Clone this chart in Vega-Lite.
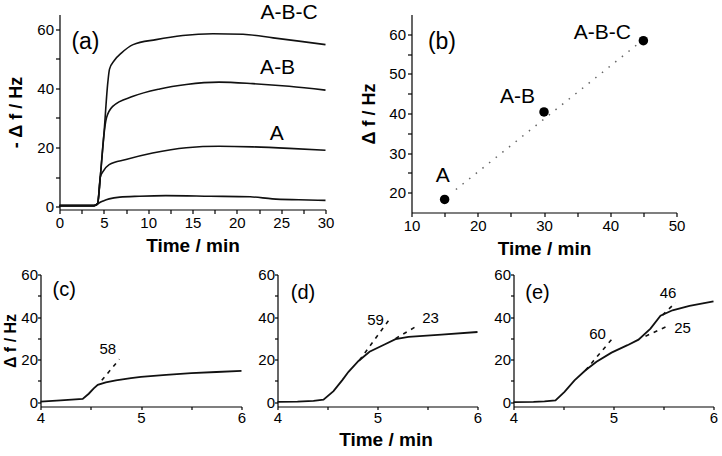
{
  "$schema": "https://vega.github.io/schema/vega-lite/v6.json",
  "padding": {"left": 2.5, "top": 1.5, "right": 0, "bottom": 0},
  "background": "white",
  "config": {
    "font": "Liberation Sans",
    "view": {"stroke": null},
    "axis": {
      "grid": false,
      "domainColor": "#000",
      "domainWidth": 1.2,
      "tickColor": "#000",
      "tickWidth": 1.2,
      "tickSize": 4,
      "labelFont": "Liberation Sans",
      "labelFontSize": 15,
      "labelColor": "#000",
      "labelFlush": false,
      "labelOverlap": false,
      "labelPadding": 2,
      "titleFont": "Liberation Sans",
      "titleFontWeight": "bold",
      "titleColor": "#000"
    },
    "text": {"font": "Liberation Sans", "color": "#000"}
  },
  "datasets": {
    "a": [
      {"s": "0", "t": 0, "v": 0.3}, {"s": "0", "t": 3.9, "v": 0.3}, {"s": "0", "t": 4.2, "v": 0.6}, {"s": "0", "t": 4.45, "v": 1.2}, {"s": "0", "t": 5, "v": 2.0}, {"s": "0", "t": 5.6, "v": 2.6}, {"s": "0", "t": 6.8, "v": 3.2}, {"s": "0", "t": 9, "v": 3.5}, {"s": "0", "t": 12, "v": 3.7}, {"s": "0", "t": 17, "v": 3.5}, {"s": "0", "t": 21.5, "v": 3.3}, {"s": "0", "t": 24, "v": 2.6}, {"s": "0", "t": 27, "v": 2.3}, {"s": "0", "t": 30, "v": 2.1},
      {"s": "A", "t": 0, "v": 0.3}, {"s": "A", "t": 3.9, "v": 0.3}, {"s": "A", "t": 4.3, "v": 1}, {"s": "A", "t": 4.45, "v": 5}, {"s": "A", "t": 4.6, "v": 10}, {"s": "A", "t": 4.9, "v": 11.8}, {"s": "A", "t": 5.6, "v": 14.2}, {"s": "A", "t": 7.5, "v": 15.9}, {"s": "A", "t": 10.5, "v": 18.1}, {"s": "A", "t": 14.3, "v": 19.9}, {"s": "A", "t": 18, "v": 20.4}, {"s": "A", "t": 21.8, "v": 20.2}, {"s": "A", "t": 25.9, "v": 19.7}, {"s": "A", "t": 30, "v": 19.05},
      {"s": "AB", "t": 0, "v": 0.3}, {"s": "AB", "t": 3.9, "v": 0.3}, {"s": "AB", "t": 4.3, "v": 1}, {"s": "AB", "t": 4.6, "v": 10}, {"s": "AB", "t": 5.0, "v": 24}, {"s": "AB", "t": 5.3, "v": 30}, {"s": "AB", "t": 6.0, "v": 33.9}, {"s": "AB", "t": 8.3, "v": 37.3}, {"s": "AB", "t": 11.3, "v": 39.8}, {"s": "AB", "t": 14.3, "v": 41.3}, {"s": "AB", "t": 18, "v": 42.1}, {"s": "AB", "t": 21.8, "v": 41.6}, {"s": "AB", "t": 25.9, "v": 40.7}, {"s": "AB", "t": 30, "v": 39.4},
      {"s": "ABC", "t": 0, "v": 0.3}, {"s": "ABC", "t": 3.9, "v": 0.3}, {"s": "ABC", "t": 4.3, "v": 1}, {"s": "ABC", "t": 4.6, "v": 10}, {"s": "ABC", "t": 5.0, "v": 24}, {"s": "ABC", "t": 5.45, "v": 42}, {"s": "ABC", "t": 5.64, "v": 46.5}, {"s": "ABC", "t": 6.2, "v": 49.5}, {"s": "ABC", "t": 7, "v": 52}, {"s": "ABC", "t": 8.3, "v": 54.8}, {"s": "ABC", "t": 10.9, "v": 56.5}, {"s": "ABC", "t": 13.9, "v": 57.9}, {"s": "ABC", "t": 17.3, "v": 58.5}, {"s": "ABC", "t": 20.7, "v": 58.3}, {"s": "ABC", "t": 24.1, "v": 57.1}, {"s": "ABC", "t": 27, "v": 56}, {"s": "ABC", "t": 30, "v": 54.8}
    ],
    "a_lbl": [
      {"t": 25.9, "v": 65.6, "text": "A-B-C"},
      {"t": 24.6, "v": 47, "text": "A-B"},
      {"t": 24.5, "v": 24.4, "text": "A"}
    ],
    "a_panel": [{"t": 2.93, "v": 55.8, "text": "(a)"}],
    "b_pts": [
      {"x": 15, "y": 18.3},
      {"x": 30, "y": 40.4},
      {"x": 45, "y": 58.4}
    ],
    "b_fit": [{"x": 16.7, "y": 20.8}, {"x": 44.5, "y": 58}],
    "b_lbl": [
      {"x": 14.7, "y": 24.2, "text": "A"},
      {"x": 26.0, "y": 44.2, "text": "A-B"},
      {"x": 38.8, "y": 60.3, "text": "A-B-C"}
    ],
    "b_panel": [{"x": 14.6, "y": 58.1, "text": "(b)"}],
    "bot": [
      {"p": "c", "t": 4, "v": 0.3}, {"p": "c", "t": 4.2, "v": 0.9}, {"p": "c", "t": 4.42, "v": 1.6}, {"p": "c", "t": 4.48, "v": 4}, {"p": "c", "t": 4.53, "v": 6.5}, {"p": "c", "t": 4.57, "v": 8.2}, {"p": "c", "t": 4.65, "v": 9.3}, {"p": "c", "t": 4.75, "v": 10.3}, {"p": "c", "t": 4.9, "v": 11.3}, {"p": "c", "t": 5, "v": 11.9}, {"p": "c", "t": 5.25, "v": 12.9}, {"p": "c", "t": 5.5, "v": 13.7}, {"p": "c", "t": 5.75, "v": 14.2}, {"p": "c", "t": 6, "v": 14.7},
      {"p": "d", "t": 4, "v": 0.2}, {"p": "d", "t": 4.2, "v": 0.3}, {"p": "d", "t": 4.36, "v": 0.6}, {"p": "d", "t": 4.46, "v": 1.2}, {"p": "d", "t": 4.56, "v": 5.2}, {"p": "d", "t": 4.65, "v": 10.5}, {"p": "d", "t": 4.71, "v": 14.3}, {"p": "d", "t": 4.81, "v": 19.4}, {"p": "d", "t": 4.92, "v": 23.7}, {"p": "d", "t": 5.07, "v": 27.1}, {"p": "d", "t": 5.18, "v": 29.6}, {"p": "d", "t": 5.31, "v": 30.7}, {"p": "d", "t": 5.64, "v": 31.8}, {"p": "d", "t": 6, "v": 33},
      {"p": "e", "t": 4, "v": 0.1}, {"p": "e", "t": 4.2, "v": 0.2}, {"p": "e", "t": 4.31, "v": 0.4}, {"p": "e", "t": 4.42, "v": 0.9}, {"p": "e", "t": 4.51, "v": 4.9}, {"p": "e", "t": 4.61, "v": 10.3}, {"p": "e", "t": 4.72, "v": 15}, {"p": "e", "t": 4.83, "v": 19}, {"p": "e", "t": 4.98, "v": 23.3}, {"p": "e", "t": 5.14, "v": 26.8}, {"p": "e", "t": 5.25, "v": 29.4}, {"p": "e", "t": 5.37, "v": 34.6}, {"p": "e", "t": 5.47, "v": 40.6}, {"p": "e", "t": 5.59, "v": 43.2}, {"p": "e", "t": 5.76, "v": 45.3}, {"p": "e", "t": 6, "v": 47.4}
    ],
    "tan": [
      {"p": "c", "id": "c1", "t": 4.61, "v": 10.3}, {"p": "c", "id": "c1", "t": 4.785, "v": 20.2},
      {"p": "d", "id": "d1", "t": 4.82, "v": 19.7}, {"p": "d", "id": "d1", "t": 5.12, "v": 39},
      {"p": "d", "id": "d2", "t": 5.18, "v": 29.9}, {"p": "d", "id": "d2", "t": 5.39, "v": 35.7},
      {"p": "e", "id": "e1", "t": 4.72, "v": 15}, {"p": "e", "id": "e1", "t": 4.98, "v": 29.4},
      {"p": "e", "id": "e2", "t": 5.49, "v": 40.9}, {"p": "e", "id": "e2", "t": 5.62, "v": 46.8},
      {"p": "e", "id": "e3", "t": 5.32, "v": 31}, {"p": "e", "id": "e3", "t": 5.56, "v": 36.2}
    ],
    "slope": [
      {"p": "c", "t": 4.67, "v": 25.1, "text": "58"},
      {"p": "d", "t": 4.98, "v": 38.7, "text": "59"},
      {"p": "d", "t": 5.53, "v": 39.4, "text": "23"},
      {"p": "e", "t": 4.84, "v": 31.9, "text": "60"},
      {"p": "e", "t": 5.545, "v": 51.2, "text": "46"},
      {"p": "e", "t": 5.69, "v": 34.8, "text": "25"}
    ],
    "bpanel": [
      {"p": "c", "t": 4.236, "v": 52.5, "text": "(c)"},
      {"p": "d", "t": 4.255, "v": 51.5, "text": "(d)"},
      {"p": "e", "t": 4.24, "v": 51.5, "text": "(e)"}
    ]
  },
  "spacing": 9,
  "vconcat": [
    {
      "bounds": "flush",
      "spacing": 18,
      "hconcat": [
        {"width": 1, "height": 1, "data": {"values": [{}]}, "mark": {"type": "point", "opacity": 0}},
        {
          "bounds": "flush",
          "spacing": 86,
          "hconcat": [
            {
              "width": 266,
              "height": 195,
              "encoding": {
                "x": {"field": "t", "type": "quantitative", "scale": {"domain": [0, 30], "nice": false, "zero": false},
                  "axis": {"values": [0, 2.5, 5, 7.5, 10, 12.5, 15, 17.5, 20, 22.5, 25, 27.5, 30], "labelExpr": "datum.value % 5 == 0 ? '' + datum.value : ''", "title": "Time / min", "titleFontSize": 19, "titlePadding": 6}},
                "y": {"field": "v", "type": "quantitative", "scale": {"domain": [-1, 65], "nice": false, "zero": false},
                  "axis": {"values": [0, 10, 20, 30, 40, 50, 60], "labelExpr": "datum.value % 20 == 0 ? '' + datum.value : ''", "title": "- Δ f / Hz", "titleFontSize": 18, "titlePadding": 11}}
              },
              "layer": [
                {"data": {"name": "a"}, "mark": {"type": "line", "color": "#111", "strokeWidth": 1.6, "interpolate": "monotone"}, "encoding": {"detail": {"field": "s"}}},
                {"data": {"name": "a_lbl"}, "mark": {"type": "text", "fontSize": 21, "align": "center", "baseline": "middle"}, "encoding": {"text": {"field": "text"}}},
                {"data": {"name": "a_panel"}, "mark": {"type": "text", "fontSize": 23, "align": "center", "baseline": "middle"}, "encoding": {"text": {"field": "text"}}}
              ]
            },
            {
              "width": 265,
              "height": 198,
              "encoding": {
                "x": {"field": "x", "type": "quantitative", "scale": {"domain": [10, 50], "nice": false, "zero": false},
                  "axis": {"values": [10, 15, 20, 25, 30, 35, 40, 45, 50], "labelExpr": "datum.value % 10 == 0 ? '' + datum.value : ''", "title": "Time / min", "titleFontSize": 19, "titlePadding": 6}},
                "y": {"field": "y", "type": "quantitative", "scale": {"domain": [15, 65], "nice": false, "zero": false},
                  "axis": {"values": [20, 25, 30, 35, 40, 45, 50, 55, 60], "labelExpr": "datum.value % 10 == 0 ? '' + datum.value : ''", "title": "Δ f / Hz", "titleFontSize": 18, "titlePadding": 10}}
              },
              "layer": [
                {"data": {"name": "b_fit"}, "mark": {"type": "line", "color": "#666", "strokeWidth": 1.5, "strokeDash": [1.5, 7]}, "encoding": {}},
                {"data": {"name": "b_pts"}, "mark": {"type": "circle", "color": "#000", "size": 90, "opacity": 1}, "encoding": {}},
                {"data": {"name": "b_lbl"}, "mark": {"type": "text", "fontSize": 21, "align": "center", "baseline": "middle"}, "encoding": {"text": {"field": "text"}}},
                {"data": {"name": "b_panel"}, "mark": {"type": "text", "fontSize": 23, "align": "center", "baseline": "middle"}, "encoding": {"text": {"field": "text"}}}
              ]
            }
          ]
        }
      ]
    },
    {
      "bounds": "flush",
      "spacing": 36,
      "hconcat": [
        {
          "width": 201,
          "height": 132,
          "encoding": {
            "x": {"field": "t", "type": "quantitative", "scale": {"domain": [4, 6], "nice": false, "zero": false},
              "axis": {"values": [4, 4.5, 5, 5.5, 6], "labelExpr": "datum.value % 1 == 0 ? '' + datum.value : ''", "title": null, "tickSize": 3, "labelPadding": 1}},
            "y": {"field": "v", "type": "quantitative", "scale": {"domain": [-2, 60], "nice": false, "zero": false},
              "axis": {"values": [0, 10, 20, 30, 40, 50, 60], "labelExpr": "datum.value % 20 == 0 ? '' + datum.value : ''", "title": "Δ f / Hz", "titleFontSize": 16, "titlePadding": 2, "tickSize": 3, "labelPadding": 0}}
          },
          "layer": [
            {"data": {"name": "bot"}, "transform": [{"filter": "datum.p == 'c'"}], "mark": {"type": "line", "color": "#111", "strokeWidth": 1.8}, "encoding": {}},
            {"data": {"name": "tan"}, "transform": [{"filter": "datum.p == 'c'"}], "mark": {"type": "line", "color": "#111", "strokeWidth": 1.6, "strokeDash": [4, 5]}, "encoding": {"detail": {"field": "id"}}},
            {"data": {"name": "slope"}, "transform": [{"filter": "datum.p == 'c'"}], "mark": {"type": "text", "fontSize": 15, "align": "center", "baseline": "middle"}, "encoding": {"text": {"field": "text"}}},
            {"data": {"name": "bpanel"}, "transform": [{"filter": "datum.p == 'c'"}], "mark": {"type": "text", "fontSize": 20, "align": "center", "baseline": "middle"}, "encoding": {"text": {"field": "text"}}}
          ]
        },
        {
          "width": 200,
          "height": 132,
          "encoding": {
            "x": {"field": "t", "type": "quantitative", "scale": {"domain": [4, 6], "nice": false, "zero": false},
              "axis": {"values": [4, 4.5, 5, 5.5, 6], "labelExpr": "datum.value % 1 == 0 ? '' + datum.value : ''", "title": "Time / min", "titleFontSize": 19, "titlePadding": 5, "titleX": 108, "tickSize": 3, "labelPadding": 1}},
            "y": {"field": "v", "type": "quantitative", "scale": {"domain": [-2, 60], "nice": false, "zero": false},
              "axis": {"values": [0, 10, 20, 30, 40, 50, 60], "labelExpr": "datum.value % 20 == 0 ? '' + datum.value : ''", "title": null, "tickSize": 3, "labelPadding": 0}}
          },
          "layer": [
            {"data": {"name": "bot"}, "transform": [{"filter": "datum.p == 'd'"}], "mark": {"type": "line", "color": "#111", "strokeWidth": 1.8}, "encoding": {}},
            {"data": {"name": "tan"}, "transform": [{"filter": "datum.p == 'd'"}], "mark": {"type": "line", "color": "#111", "strokeWidth": 1.6, "strokeDash": [4, 5]}, "encoding": {"detail": {"field": "id"}}},
            {"data": {"name": "slope"}, "transform": [{"filter": "datum.p == 'd'"}], "mark": {"type": "text", "fontSize": 15, "align": "center", "baseline": "middle"}, "encoding": {"text": {"field": "text"}}},
            {"data": {"name": "bpanel"}, "transform": [{"filter": "datum.p == 'd'"}], "mark": {"type": "text", "fontSize": 20, "align": "center", "baseline": "middle"}, "encoding": {"text": {"field": "text"}}}
          ]
        },
        {
          "width": 200,
          "height": 132,
          "encoding": {
            "x": {"field": "t", "type": "quantitative", "scale": {"domain": [4, 6], "nice": false, "zero": false},
              "axis": {"values": [4, 4.5, 5, 5.5, 6], "labelExpr": "datum.value % 1 == 0 ? '' + datum.value : ''", "title": null, "tickSize": 3, "labelPadding": 1}},
            "y": {"field": "v", "type": "quantitative", "scale": {"domain": [-2, 60], "nice": false, "zero": false},
              "axis": {"values": [0, 10, 20, 30, 40, 50, 60], "labelExpr": "datum.value % 20 == 0 ? '' + datum.value : ''", "title": null, "tickSize": 3, "labelPadding": 0}}
          },
          "layer": [
            {"data": {"name": "bot"}, "transform": [{"filter": "datum.p == 'e'"}], "mark": {"type": "line", "color": "#111", "strokeWidth": 1.8}, "encoding": {}},
            {"data": {"name": "tan"}, "transform": [{"filter": "datum.p == 'e'"}], "mark": {"type": "line", "color": "#111", "strokeWidth": 1.6, "strokeDash": [4, 5]}, "encoding": {"detail": {"field": "id"}}},
            {"data": {"name": "slope"}, "transform": [{"filter": "datum.p == 'e'"}], "mark": {"type": "text", "fontSize": 15, "align": "center", "baseline": "middle"}, "encoding": {"text": {"field": "text"}}},
            {"data": {"name": "bpanel"}, "transform": [{"filter": "datum.p == 'e'"}], "mark": {"type": "text", "fontSize": 20, "align": "center", "baseline": "middle"}, "encoding": {"text": {"field": "text"}}}
          ]
        }
      ]
    }
  ]
}
